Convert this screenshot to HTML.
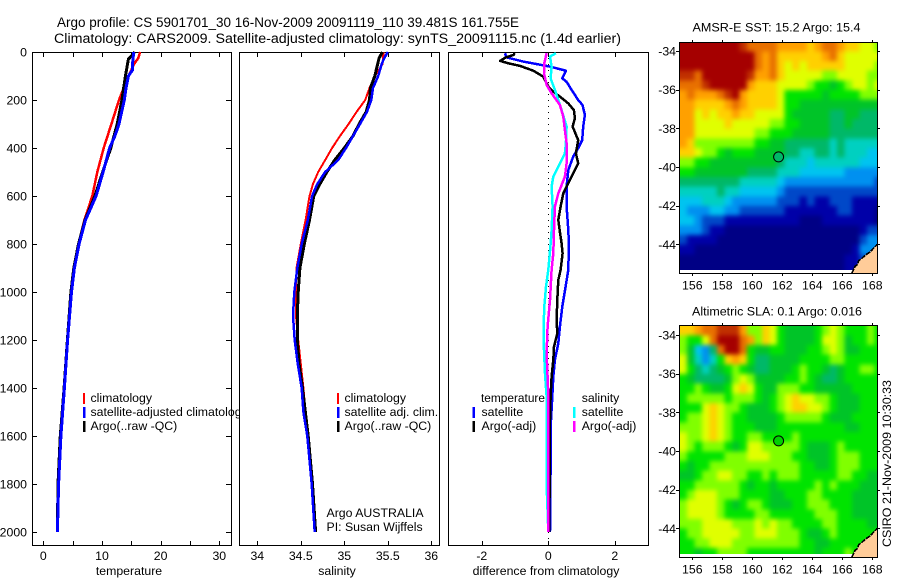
<!DOCTYPE html>
<html>
<head>
<meta charset="utf-8">
<title>Argo profile</title>
<style>
html,body{margin:0;padding:0;background:#fff;}
svg{display:block;}
text{font-family:"Liberation Sans",sans-serif;font-size:12.3px;fill:#000;}
.t{font-size:13.5px;}
</style>
</head>
<body>
<svg id="chart" xmlns="http://www.w3.org/2000/svg" width="900" height="580" viewBox="0 0 900 580">
<defs>
<clipPath id="clip-legend"><rect x="32" y="52" width="207" height="493"/></clipPath>
<clipPath id="clip-map1"><rect x="679" y="42" width="198" height="231"/></clipPath>
<clipPath id="clip-map2"><rect x="679" y="325" width="198" height="232"/></clipPath>
<clipPath id="clip-heat1"><rect x="679" y="42" width="198" height="228"/></clipPath>
<clipPath id="clip-heat2"><rect x="679" y="325" width="198" height="229"/></clipPath>
<filter id="soften" filterUnits="userSpaceOnUse" x="640" y="0" width="260" height="580" color-interpolation-filters="sRGB"><feGaussianBlur stdDeviation="2.4"/></filter>
</defs>
<rect x="0" y="0" width="900" height="580" fill="#fff"/>
<text class="t" x="57" y="27" textLength="462" lengthAdjust="spacingAndGlyphs">Argo profile: CS 5901701_30 16-Nov-2009 20091119_110 39.481S 161.755E</text>
<text class="t" x="54" y="43" textLength="567" lengthAdjust="spacingAndGlyphs">Climatology: CARS2009. Satellite-adjusted climatology: synTS_20091115.nc (1.4d earlier)</text>

<g id="p1"></g>
<g id="p2"></g>
<g id="p3"></g>
<g id="m1"></g>
<g id="m2"></g>

<g clip-path="url(#clip-legend)">
<rect x="83" y="393" width="2" height="11" fill="#f00"/>
<rect x="83" y="407" width="2.5" height="11" fill="#00f"/>
<rect x="83" y="421" width="2.5" height="11" fill="#000"/>
<text x="90.5" y="402">climatology</text>
<text x="90.5" y="416">satellite-adjusted climatology</text>
<text x="90.5" y="430">Argo(..raw -QC)</text>
</g>
<g>
<rect x="337" y="393" width="2" height="11" fill="#f00"/>
<rect x="337" y="407" width="2.5" height="11" fill="#00f"/>
<rect x="337" y="421" width="2.5" height="11" fill="#000"/>
<text x="344.5" y="402">climatology</text>
<text x="344.5" y="416">satellite adj. clim.</text>
<text x="344.5" y="430">Argo(..raw -QC)</text>
<text x="326.5" y="517">Argo AUSTRALIA</text>
<text x="326.5" y="531">PI: Susan Wijffels</text>
</g>
<g>
<text x="481" y="402" textLength="64" lengthAdjust="spacingAndGlyphs">temperature</text>
<rect x="472.5" y="407" width="2.5" height="11" fill="#00f"/>
<text x="481.5" y="416">satellite</text>
<rect x="472.5" y="421" width="2.5" height="11" fill="#000"/>
<text x="481.5" y="430">Argo(-adj)</text>
<text x="581.7" y="402">salinity</text>
<rect x="573" y="407" width="2.5" height="11" fill="#0ff"/>
<text x="581.7" y="416">satellite</text>
<rect x="573" y="421" width="2.5" height="11" fill="#f0f"/>
<text x="581.7" y="430">Argo(-adj)</text>
</g>
<text x="129" y="575" text-anchor="middle">temperature</text>
<text x="337" y="575" text-anchor="middle">salinity</text>
<text x="546" y="575" text-anchor="middle">difference from climatology</text>
<text x="692.5" y="31.5" textLength="168" lengthAdjust="spacingAndGlyphs">AMSR-E SST: 15.2  Argo: 15.4</text>
<text x="692" y="315.5" textLength="170" lengthAdjust="spacingAndGlyphs">Altimetric SLA: 0.1  Argo: 0.016</text>
<text transform="translate(891,547) rotate(-90)" textLength="167" lengthAdjust="spacingAndGlyphs">CSIRO 21-Nov-2009 10:30:33</text>
</svg>
<script>
// ---- Profile data (depth in dbar) ----
var pressureTicks = [0,200,400,600,800,1000,1200,1400,1600,1800,2000];
var tempTicks = [0,5,10,15,20,25,30];
var tempTickLabels = ['0','','10','','20','','30'];
var salTicks = [34,34.5,35,35.5,36];
var salTickLabels = ['34','34.5','35','35.5','36'];
var diffTicks = [-2,0,2];
var diffTickLabels = ['-2','0','2'];

var tempClimDepth = [0,25,50,100,200,300,400,500,600,700,800,900,1000,1200,1400,1600,1800,2000];
var tempClimValue = [16.5,16.2,15.5,14.5,12.9,11.6,10.3,9.2,8.35,7.0,6.0,5.2,4.8,4.1,3.6,3.0,2.6,2.45];
var tempSatDepth = [0,50,75,100,150,200,300,350,400,500,600,700,800,900,1000,1200,1400,1600,1800,2000];
var tempSatValue = [15.4,15.2,15.2,14.5,14.1,13.8,12.9,12.2,11.3,10.2,9.0,7.2,6.1,5.3,4.8,4.15,3.6,3.0,2.6,2.4];
var tempArgoDepth = [0,30,100,200,300,400,500,600,700,800,900,1000,1200,1400,1600,1800,2000];
var tempArgoValue = [15.6,14.5,14.0,13.4,12.6,11.5,10.1,8.8,7.1,6.0,5.2,4.7,4.1,3.55,2.9,2.5,2.4];

var salClimDepth = [0,50,100,150,200,250,300,350,400,450,500,550,600,700,800,900,1000,1100,1200,1300,1400,1600,1800,2000];
var salClimValue = [35.45,35.44,35.35,35.29,35.24,35.14,35.05,34.95,34.86,34.78,34.70,34.64,34.60,34.555,34.50,34.45,34.445,34.445,34.47,34.50,34.53,34.58,34.625,34.665];
var salSatDepth = [0,25,50,100,150,200,250,300,350,400,450,500,550,600,700,800,900,1000,1100,1200,1300,1400,1500,1600,1800,2000];
var salSatValue = [35.5,35.46,35.43,35.39,35.33,35.31,35.26,35.18,35.10,35.02,34.93,34.78,34.69,34.63,34.58,34.51,34.46,34.425,34.41,34.43,34.465,34.51,34.53,34.575,34.625,34.66];
var salArgoDepth = [0,25,100,150,200,250,300,350,400,450,500,550,600,700,800,900,1000,1100,1200,1300,1400,1600,1800,2000];
var salArgoValue = [35.44,35.40,35.35,35.30,35.29,35.25,35.17,35.10,35.0,34.89,34.80,34.72,34.65,34.60,34.54,34.49,34.47,34.46,34.46,34.48,34.52,34.585,34.635,34.67];

var diffTempSatDepth = [5,22,40,51,61,78,110,124,158,200,221,262,311,367,401,436,492,561,644,742,800,908,978,1061,1144,1214,1283,1353,1436,1533,2000];
var diffTempSatValue = [-1.30,-1.27,-0.75,-0.33,0.05,0.53,0.42,0.55,0.70,0.90,1.03,1.10,1.05,1.02,0.90,0.75,0.60,0.55,0.55,0.60,0.62,0.60,0.52,0.42,0.35,0.30,0.20,0.15,0.12,0.08,0.05];
var diffTempArgoDepth = [5,12,24,37,47,58,78,103,144,165,186,214,242,276,311,367,422,464,506,547,589,644,700,750,797,839,908,950,1033,1117,1172,1228,1283,1353,1436,1533,2000];
var diffTempArgoValue = [-1.0,-1.05,-1.30,-1.45,-1.20,-0.85,-0.45,-0.15,0,0.15,0.35,0.60,0.77,0.80,0.73,0.90,0.83,0.90,0.75,0.60,0.45,0.37,0.30,0.35,0.40,0.43,0.37,0.30,0.27,0.25,0.27,0.17,0.15,0.10,0.07,0.05,0.03];
var diffSalSatDepth = [5,19,61,110,158,242,311,380,422,478,519,561,644,742,800,908,978,1061,1144,1242,1339,1436,1533,1800,2000];
var diffSalSatValue = [0.23,0.05,0.10,0.07,0.20,0.40,0.55,0.53,0.50,0.30,0.15,0.10,0.13,0.10,0.07,0,-0.07,-0.12,-0.14,-0.13,-0.10,-0.05,-0.04,-0.05,0];
var diffSalArgoDepth = [5,47,89,137,172,221,269,325,380,464,519,589,644,742,839,908,1033,1144,1256,1394,1533,2000];
var diffSalArgoValue = [-0.05,-0.12,-0.13,-0.05,0.10,0.35,0.45,0.50,0.55,0.55,0.50,0.30,0.20,0.17,0.15,0.10,0.05,-0.02,-0.05,-0.01,0,0];

// ---- Map data: colour level per 0.5 degree cell, north to south ----
var lonTicks = [156,158,160,162,164,166,168];
var latTicks = [-34,-36,-38,-40,-42,-44];
var sstLevels = [
[15,15,15,15,15,15,15,15,14,13,13,13,13,12,12,12,12,11,12,13,13,12,11,11,10,10,9],
[15,15,15,15,15,15,15,15,15,15,13,12,13,11,11,11,11,11,11,12,13,11,10,10,10,10,10],
[15,15,15,15,15,15,15,15,15,15,13,12,13,11,10,11,10,11,11,11,11,11,10,10,10,10,9],
[14,14,13,15,15,15,15,15,15,14,12,12,13,11,10,10,10,10,10,9,9,10,10,10,10,9,9],
[13,13,13,14,15,15,15,15,15,12,11,11,11,10,10,10,10,9,8,8,7,8,9,10,10,9,10],
[12,13,12,12,12,13,14,15,12,11,11,11,11,10,8,8,8,8,8,7,8,8,8,8,9,9,9],
[12,12,11,11,11,11,12,13,12,11,11,11,11,10,8,8,7,7,7,7,7,7,7,7,7,7,7],
[12,12,10,11,10,11,11,12,11,11,10,10,10,10,8,7,7,7,7,7,6,6,7,7,6,6,6],
[12,12,10,10,10,10,11,10,10,10,10,10,9,9,8,8,7,7,7,7,6,6,7,6,6,6,6],
[12,12,10,10,10,10,10,10,10,10,9,9,8,8,8,7,7,7,7,7,6,6,6,6,6,6,6],
[12,11,9,9,9,9,9,9,9,9,8,8,7,7,6,6,6,6,6,6,5,6,5,5,5,5,5],
[11,11,10,9,9,8,7,8,8,8,7,7,7,7,6,6,5,5,6,6,5,6,5,5,5,4,4],
[9,9,8,8,7,7,7,7,7,7,7,7,7,6,5,5,5,4,5,5,5,5,5,5,4,4,4],
[8,8,7,7,7,7,7,7,7,6,6,6,6,5,5,5,4,4,4,4,4,4,3,3,3,3,3],
[6,6,6,6,6,6,6,6,5,5,5,5,5,4,3,3,3,3,3,3,3,3,3,3,3,3,2],
[5,5,5,5,5,6,5,5,4,4,4,4,4,3,2,2,2,2,2,2,2,2,2,2,2,2,2],
[4,4,4,5,5,5,4,3,3,3,3,3,3,2,2,2,1,2,1,1,2,2,2,1,1,1,1],
[4,3,3,3,4,4,3,3,2,2,2,2,2,2,1,1,1,1,1,1,1,2,2,1,1,1,0],
[4,4,3,2,2,2,1,1,1,1,1,1,1,1,1,1,0,0,0,1,1,1,1,1,1,1,0],
[3,3,3,2,1,1,0,0,0,0,0,0,0,0,0,0,0,0,0,0,0,0,0,0,1,2,2],
[2,1,1,1,1,0,0,0,0,0,0,0,0,0,0,0,0,0,0,0,0,0,0,0,2,3,3],
[1,1,0,0,0,0,0,0,0,0,0,0,0,0,0,0,0,0,0,0,0,0,0,1,3,3,3],
[0,0,0,0,0,0,0,0,0,0,0,0,0,0,0,0,0,0,0,0,0,0,1,1,2,2,2],
[0,0,0,0,0,0,0,0,0,0,0,0,0,0,0,0,0,0,0,0,0,0,1,1,1,1,1]
];
var slaLevels = [
[11,11,12,13,13,14,14,14,12,9,9,11,10,8,7,7,7,7,8,9,10,9,8,8,8,9,8],
[9,8,8,10,13,15,15,15,13,12,9,11,10,8,7,7,7,7,8,10,10,9,7,8,8,9,8],
[9,7,4,3,6,13,15,15,13,8,7,7,8,8,7,7,7,8,8,9,10,9,7,7,8,8,8],
[10,7,5,3,5,8,11,12,11,8,6,6,7,7,7,7,8,8,8,8,9,9,8,8,8,8,8],
[10,8,6,5,6,7,8,9,8,7,6,6,7,7,7,8,9,8,8,7,6,7,8,8,9,9,8],
[8,7,6,6,6,6,7,9,10,9,7,7,7,7,8,8,9,8,7,6,6,7,8,8,8,8,8],
[8,8,9,8,7,7,8,10,11,10,8,7,7,9,9,9,8,8,7,7,7,7,7,8,8,8,8],
[8,9,9,9,9,9,8,9,9,9,8,7,8,9,10,11,10,10,9,9,8,7,7,7,8,8,8],
[8,8,8,10,11,10,9,9,8,7,7,7,8,9,10,11,11,10,10,9,8,7,7,7,8,8,8],
[8,9,9,10,11,10,9,8,8,7,7,7,7,8,9,9,9,9,9,8,7,7,7,8,8,8,8],
[9,9,9,10,11,10,9,8,8,8,7,7,7,8,8,8,8,8,8,8,8,8,7,7,8,8,8],
[10,9,9,10,11,10,9,8,8,9,9,8,8,8,8,9,8,8,8,8,8,8,8,8,8,8,8],
[10,9,8,9,9,9,8,7,8,10,10,9,9,9,9,9,8,7,7,7,8,9,8,8,8,8,8],
[9,8,8,8,8,8,9,9,9,10,10,10,9,9,9,8,8,7,7,7,8,9,9,9,8,8,8],
[8,7,8,8,9,9,9,9,9,9,9,9,9,9,9,9,8,8,7,7,8,9,9,9,8,8,8],
[7,7,8,9,9,10,10,9,9,8,8,9,8,9,9,9,8,8,8,8,8,9,9,8,8,7,7],
[8,8,9,9,9,9,9,9,8,7,8,8,7,8,8,8,8,8,9,8,9,8,8,8,7,7,7],
[8,9,10,10,10,9,9,9,8,8,8,8,7,7,8,8,8,9,9,8,8,8,8,7,7,7,7],
[9,10,10,10,10,9,8,7,8,9,9,8,7,7,7,8,8,9,9,9,8,8,8,7,7,7,7],
[9,10,10,10,10,9,8,8,8,8,9,9,8,8,8,8,8,8,9,9,9,8,8,7,7,7,7],
[9,9,9,10,10,10,10,9,9,9,10,9,10,9,9,8,8,8,8,9,9,8,8,8,8,7,7],
[8,9,9,10,10,10,10,10,9,9,10,10,10,9,9,9,8,7,7,8,9,8,8,8,8,8,8],
[8,8,9,9,10,10,10,9,9,9,9,9,9,9,9,9,8,8,7,7,8,8,8,8,8,8,8],
[8,8,7,8,8,9,9,9,9,8,8,8,8,8,8,8,8,8,7,8,8,8,9,8,8,8,8]
];
var coastLon = [166.63,166.85,167.0,167.1,167.35,167.55,167.85,168.33];
var coastLat = [-45.5,-45.15,-45.05,-44.85,-44.7,-44.55,-44.4,-44.0];
var profileLon = 161.755;
var profileLat = -39.481;

var levelColors = ['#000085','#0000a8','#0048c8','#0090f0','#00c4f0','#00d0c0','#00b868','#00c428','#00e400','#80ff00','#e0ff00','#ffd000','#ffa000','#e87000','#c03000','#a50000'];

// ---- Axis functions ----
function yDepth(d){ return 52 + d*0.24; }
function xTemp(t){ return 43.3 + t*5.867; }
function xSal(s){ return 257.3 + (s-34)*87; }
function xDiff(v){ return 548.3 + v*33.25; }
function xLon(lon){ return 692.3 + (lon-156)*15; }
function yLatA(lat){ return 51 + (-34-lat)*19.33; }
function yLatB(lat){ return 335 + (-34-lat)*19.33; }

var NS = 'http://www.w3.org/2000/svg';
function make(parent, tag, attrs){
  var el = document.createElementNS(NS, tag);
  for (var k in attrs) el.setAttribute(k, attrs[k]);
  parent.appendChild(el);
  return el;
}

function drawFrame(g, x0, y0, x1, y1){
  var el = make(g, 'rect', {x:x0+0.5, y:y0+0.5, width:x1-x0, height:y1-y0, fill:'#fff', stroke:'#000', 'stroke-width':1, 'shape-rendering':'crispEdges'});
  
  
}
function tickLine(g, x1, y1, x2, y2){
  var el = make(g, 'line', {x1:x1, y1:y1, x2:x2, y2:y2, stroke:'#000', 'stroke-width':1, 'shape-rendering':'crispEdges'});
  
  
}
function label(g, x, y, s, anchor){
  var el = make(g, 'text', {x:x, y:y, 'text-anchor':anchor});
  
  
  el.textContent = s;
}
function drawLine(g, depths, values, xf, color, width, name){
  var pts = [];
  for (var i=0;i<depths.length;i++) pts.push(xf(values[i]).toFixed(1)+','+yDepth(depths[i]).toFixed(1));
  var el = make(g, 'polyline', {points:pts.join(' '), fill:'none', stroke:color, 'stroke-width':width, 'stroke-linejoin':'round', 'shape-rendering':'crispEdges'});
  
  
}
function xAxis(g, ticks, labels, xf){
  for (var i=0;i<ticks.length;i++){
    var x = Math.round(xf(ticks[i]))+0.5;
    tickLine(g, x, 52, x, 57);
    tickLine(g, x, 541, x, 546);
    if (labels[i]) label(g, xf(ticks[i]), 560, labels[i], 'middle');
  }
}

// Temperature panel
var p1 = document.getElementById('p1');
drawFrame(p1, 32, 52, 231, 545);
xAxis(p1, tempTicks, tempTickLabels, xTemp);
pressureTicks.forEach(function(d){
  var y = Math.round(yDepth(d))+0.5;
  tickLine(p1, 32, y, 37, y);
  tickLine(p1, 226, y, 231, y);
  label(p1, 27, yDepth(d)+4.5, String(d), 'end');
});
drawLine(p1, tempClimDepth, tempClimValue, xTemp, '#f00', 2.5, 'temperature-climatology-line');
drawLine(p1, tempArgoDepth, tempArgoValue, xTemp, '#000', 3, 'temperature-argo-line');
drawLine(p1, tempSatDepth, tempSatValue, xTemp, '#00f', 3, 'temperature-satellite-line');

// Salinity panel
var p2 = document.getElementById('p2');
drawFrame(p2, 239, 52, 439, 545);
xAxis(p2, salTicks, salTickLabels, xSal);
drawLine(p2, salClimDepth, salClimValue, xSal, '#f00', 2, 'salinity-climatology-line');
drawLine(p2, salArgoDepth, salArgoValue, xSal, '#000', 3, 'salinity-argo-line');
drawLine(p2, salSatDepth, salSatValue, xSal, '#00f', 2.5, 'salinity-satellite-line');

// Difference panel
var p3 = document.getElementById('p3');
drawFrame(p3, 448, 52, 648, 545);
xAxis(p3, diffTicks, diffTickLabels, xDiff);
var zeroLine = make(p3, 'line', {x1:xDiff(0), y1:52, x2:xDiff(0), y2:545, stroke:'#000', 'stroke-width':1, 'stroke-dasharray':'1 5', 'shape-rendering':'crispEdges'});


drawLine(p3, diffTempSatDepth, diffTempSatValue, xDiff, '#00f', 2.5, 'difference-temp-satellite-line');
drawLine(p3, diffTempArgoDepth, diffTempArgoValue, xDiff, '#000', 2.5, 'difference-temp-argo-line');
drawLine(p3, diffSalSatDepth, diffSalSatValue, xDiff, '#0ff', 2.5, 'difference-sal-satellite-line');
drawLine(p3, diffSalArgoDepth, diffSalArgoValue, xDiff, '#f0f', 2.5, 'difference-sal-argo-line');

// Maps
function drawMap(g, levels, yf, x0, x1, y0, y1, clipId, heatClipId, dotColor){
  var heatClip = make(g, 'g', {'clip-path':'url(#'+heatClipId+')'});
  
  
  var cells = make(heatClip, 'g', {filter:'url(#soften)', 'shape-rendering':'crispEdges'});
  
  
  for (var j=0;j<levels.length;j++){
    for (var i=0;i<levels[j].length;i++){
      var lon = 155.133 + i*0.5;
      var lat = -33.52 - j*0.5;
      var left = xLon(lon), right = xLon(lon+0.5) + 0.6;
      var top = yf(lat), bot = yf(lat-0.5) + 0.6;
      // Border cells run past the frame so the softening has no fade at the edges.
      if (i === 0) left -= 14;
      if (i === levels[j].length-1) right += 14;
      if (j === 0) top -= 14;
      if (j === levels.length-1) bot += 14;
      var c = make(cells, 'rect', {x:left.toFixed(1), y:top.toFixed(1), width:(right-left).toFixed(1), height:(bot-top).toFixed(1), fill:levelColors[levels[j][i]]});
      
      
    }
  }
  var landGroup = make(g, 'g', {'clip-path':'url(#'+clipId+')'});
  
  
  var coastPts = [];
  for (var k=0;k<coastLon.length;k++) coastPts.push(xLon(coastLon[k]).toFixed(1)+','+yf(coastLat[k]).toFixed(1));
  var land = make(landGroup, 'polygon', {points:coastPts.join(' ')+' '+x1+','+y1+' '+xLon(coastLon[0]).toFixed(1)+','+y1, fill:'#ffcc99'});
  
  
  var coast = make(landGroup, 'polyline', {points:coastPts.join(' '), fill:'none', stroke:'#000', 'stroke-width':1.6, 'stroke-dasharray':'5 1', 'shape-rendering':'crispEdges'});
  
  
  var frame = make(g, 'rect', {x:x0+0.5, y:y0+0.5, width:x1-x0, height:y1-y0, fill:'none', stroke:'#000', 'stroke-width':1, 'shape-rendering':'crispEdges'});
  
  
  lonTicks.forEach(function(lon){
    var x = Math.round(xLon(lon))+0.5;
    tickLine(g, x, y0-2, x, y0);
    tickLine(g, x, y1, x, y1+3);
    label(g, xLon(lon), y1+16.7, String(lon), 'middle');
  });
  latTicks.forEach(function(lat){
    var y = Math.round(yf(lat))+0.5;
    tickLine(g, x0-3, y, x0, y);
    tickLine(g, x1, y, x1+3, y);
    label(g, 676, yf(lat)+4.5, String(lat), 'end');
  });
  var dot = make(g, 'circle', {cx:xLon(profileLon).toFixed(1), cy:yf(profileLat).toFixed(1), r:5, fill:dotColor, stroke:'#000', 'stroke-width':1});
  
  
}
drawMap(document.getElementById('m1'), sstLevels, yLatA, 679, 877, 42, 273, 'clip-map1', 'clip-heat1', '#00b868');
drawMap(document.getElementById('m2'), slaLevels, yLatB, 679, 877, 325, 557, 'clip-map2', 'clip-heat2', '#00d000');
</script>
</body>
</html>
